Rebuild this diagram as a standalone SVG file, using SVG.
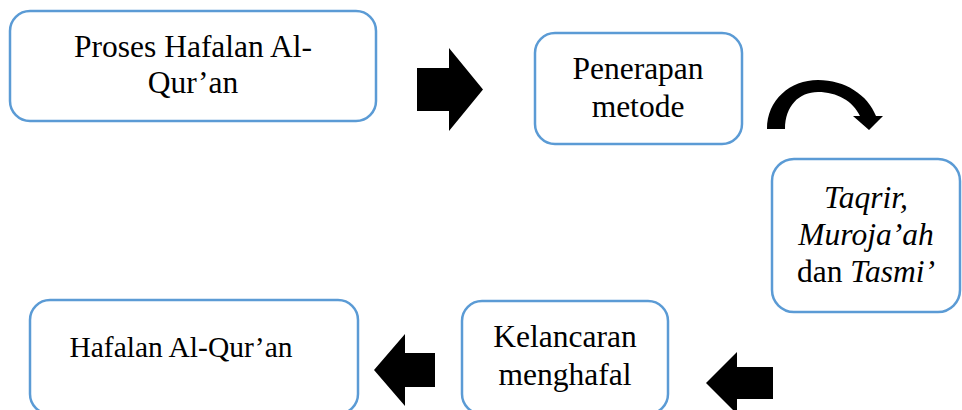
<svg xmlns="http://www.w3.org/2000/svg" width="962" height="410" viewBox="0 0 962 410">
<style>
.box{fill:#fff;stroke:#5B9BD5;stroke-width:2.5}
.t{font-family:"Liberation Serif","Times New Roman",serif;font-size:31.5px;fill:#000;text-anchor:middle}
.i{font-style:italic}
.arr{fill:#000;stroke:none}
</style>
<rect width="962" height="410" fill="#fff"/>
<g id="node-proses">
<rect class="box" x="10" y="11" width="366" height="110" rx="20"/>
<text class="t" x="193" y="57">Proses Hafalan Al-</text>
<text class="t" x="193" y="93">Qur’an</text>
</g>
<g id="node-penerapan">
<rect class="box" x="535" y="33" width="207" height="111" rx="20"/>
<text class="t" x="638" y="79">Penerapan</text>
<text class="t" x="638" y="117">metode</text>
</g>
<g id="node-taqrir">
<rect class="box" x="772" y="159" width="188" height="153" rx="22"/>
<text class="t i" x="866" y="208">Taqrir,</text>
<text class="t i" x="866" y="245">Muroja’ah</text>
<text class="t" x="866" y="282">dan <tspan class="i">Tasmi’</tspan></text>
</g>
<g id="node-kelancaran">
<rect class="box" x="462" y="301" width="206" height="113" rx="20"/>
<text class="t" x="565" y="347">Kelancaran</text>
<text class="t" x="565" y="385">menghafal</text>
</g>
<g id="node-hafalan">
<rect class="box" x="30" y="300" width="328" height="114" rx="20"/>
<text class="t" x="181" y="357" style="font-size:29.5px">Hafalan Al-Qur’an</text>
</g>
<g id="connectors">
<polygon class="arr" points="417,68 449,68 449,48 483,89.5 449,131 449,111 417,111"/>
<path class="arr" d="M767 129 C767 100 790 80 818 80 C845 80 868 95 876 116 L883 116 L869 130 L853 116 L860 116 C853 101 837 92 818 92 C799 92 785 106 785 129 Z"/>
<polygon class="arr" points="706,383 737,352 737,367 773,367 773,399 737,399 737,414"/>
<polygon class="arr" points="374,370 405,334 405,353 435,353 435,387 405,387 405,406"/>
</g>
</svg>
